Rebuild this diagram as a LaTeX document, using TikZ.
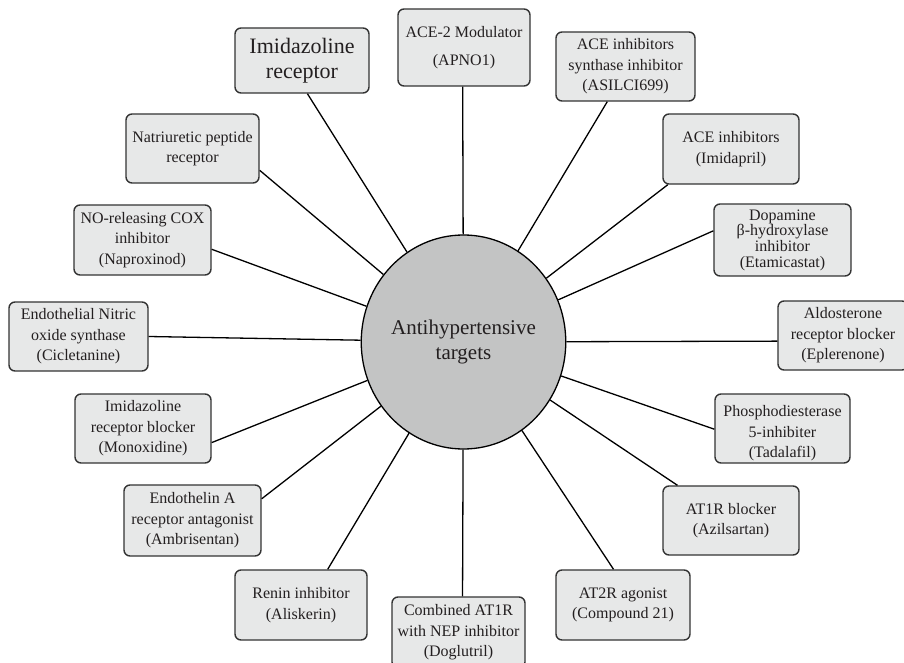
\documentclass[tikz,border=0pt]{standalone}
\usepackage{fontspec}
\setmainfont{Liberation Serif}
\usetikzlibrary{shapes.geometric,calc}
\definecolor{boxfill}{HTML}{E7E8E8}
\definecolor{boxline}{HTML}{333333}
\definecolor{ellfill}{HTML}{C3C4C4}
\definecolor{txt}{HTML}{231F20}
\tikzset{
  box/.style={draw=boxline, fill=boxfill, rounded corners=6pt, line width=1.4pt,
    inner sep=0pt, align=center, text=txt, font=\fontsize{16}{20.5}\selectfont},
  boxtext/.style={inner sep=0pt, align=center, text=txt, font=\fontsize{16}{20.5}\selectfont},
  conn/.style={draw=black, line width=1.3pt},
  hub/.style={ellipse, draw=black, fill=ellfill, line width=1.3pt, inner sep=0pt,
    minimum width=177pt, minimum height=214pt, align=center, text=txt,
    font=\fontsize{21}{25}\selectfont}
}
\begin{document}
\begin{tikzpicture}[x=1pt,y=-1pt]
\useasboundingbox (0,0) rectangle (904,663);
% connectors first (behind)
\node[hub] (ell) at (463.5,342) {Antihypertensive\\targets};

\node[box, minimum width=134pt, minimum height=65pt, font=\fontsize{22}{25.5}\selectfont] (imr) at (302,60.5) {Imidazoline\\receptor};
\node[box, minimum width=132pt, minimum height=77pt, font=\fontsize{16}{28}\selectfont] (ace2) at (464,47.5) {ACE-2 Modulator\\(APNO1)};
\node[box, minimum width=139pt, minimum height=69pt] (aces) at (625.5,66.5) {ACE inhibitors\\synthase inhibitor\\(ASILCI699)};
\node[box, minimum width=136pt, minimum height=70pt] (acei) at (731,149) {ACE inhibitors\\(Imidapril)};
\node[box, minimum width=137pt, minimum height=72pt, font=\fontsize{16}{15.7}\selectfont] (dop) at (782.5,240) {Dopamine\\β-hydroxylase\\inhibitor\\(Etamicastat)};
\node[box, minimum width=130pt, minimum height=69pt] (ald) at (843,335.5) {Aldosterone\\receptor blocker\\(Eplerenone)};
\node[box, minimum width=135pt, minimum height=69pt] (pde) at (782.5,428.5) {};
\node[boxtext] (pdet) at ($(pde.center)+(0,5)$) {Phosphodiesterase\\5-inhibiter\\(Tadalafil)};
\node[box, minimum width=136pt, minimum height=69pt] (at1) at (731,520.5) {AT1R blocker\\(Azilsartan)};
\node[box, minimum width=134pt, minimum height=70pt] (at2) at (623,605) {AT2R agonist\\(Compound 21)};
\node[box, minimum width=133pt, minimum height=71pt] (comb) at (458.5,632.5) {Combined AT1R\\with NEP inhibitor\\(Doglutril)};
\node[box, minimum width=132pt, minimum height=70pt] (ren) at (301,605) {Renin inhibitor\\(Aliskerin)};
\node[box, minimum width=137pt, minimum height=71pt] (eta) at (192.5,520.5) {Endothelin A\\receptor antagonist\\(Ambrisentan)};
\node[box, minimum width=136pt, minimum height=69pt] (imb) at (143,428.5) {Imidazoline\\receptor blocker\\(Monoxidine)};
\node[box, minimum width=139pt, minimum height=69pt] (enos) at (78.5,336.5) {Endothelial Nitric\\oxide synthase\\(Cicletanine)};
\node[box, minimum width=137pt, minimum height=70pt] (nox) at (142.5,240) {NO-releasing COX\\inhibitor\\(Naproxinod)};
\node[box, minimum width=133pt, minimum height=69pt] (nat) at (192.5,148.5) {Natriuretic peptide\\receptor};

\draw[conn] ($(imr.south west)!0.54!(imr.south east)$) -- (ell);
\draw[conn] ($(ace2.south west)!0.49!(ace2.south east)$) -- (ell);
\draw[conn] ($(aces.south west)!0.37!(aces.south east)$) -- (ell);
\draw[conn] ($(acei.south west)!0.04!(acei.south east)$) -- (ell);
\draw[conn] ($(dop.north west)!0.375!(dop.south west)$) -- (ell);
\draw[conn] ($(ald.north west)!0.58!(ald.south west)$) -- (ell);
\draw[conn] ($(pde.north west)!0.51!(pde.south west)$) -- (ell);
\draw[conn] ($(at1.north west)!0.11!(at1.north east)$) -- (ell);
\draw[conn] ($(at2.north west)!0.43!(at2.north east)$) -- (ell);
\draw[conn] ($(comb.north west)!0.53!(comb.north east)$) -- (ell);
\draw[conn] ($(ren.north west)!0.70!(ren.north east)$) -- (ell);
\draw[conn] ($(eta.north east)!0.2!(eta.south east)$) -- (ell);
\draw[conn] ($(imb.north east)!0.70!(imb.south east)$) -- (ell);
\draw[conn] ($(enos.north east)!0.5!(enos.south east)$) -- (ell);
\draw[conn] ($(nox.north east)!0.63!(nox.south east)$) -- (ell);
\draw[conn] ($(nat.north east)!0.81!(nat.south east)$) -- (ell);
\end{tikzpicture}
\end{document}
